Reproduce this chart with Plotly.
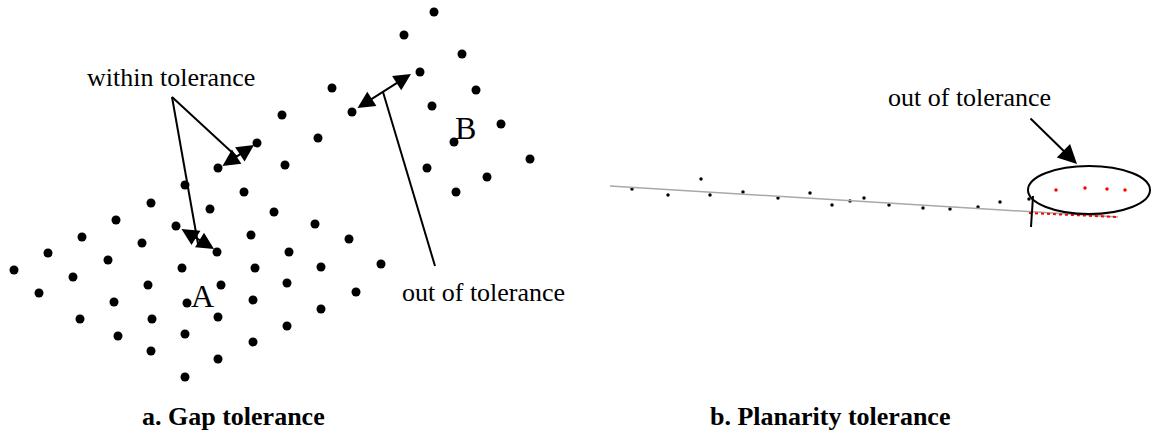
import plotly.graph_objects as go

# Panel a: point cloud (pixel-space coordinates of the diagram)
a_x = [282, 257, 285, 218, 244, 185, 151, 210, 274, 116, 176, 251, 82, 142, 217, 289, 48, 108, 14,
       182, 255, 73, 148, 221, 287, 39, 114, 187, 253, 80, 152, 218, 287, 118, 185, 253, 151, 218, 185,
       315, 349, 321, 381, 356, 321,
       434, 404, 462, 332, 420, 476, 352, 432, 501, 318, 454, 530, 427, 487, 456]
a_y = [115, 143, 165, 168, 192, 185, 203, 209, 212, 220, 226, 235, 237, 243, 252, 252, 253, 260, 270,
       268, 268, 277, 285, 285, 283, 293, 302, 303, 300, 319, 319, 317, 326, 336, 334, 342, 351, 359, 377,
       224, 239, 267, 264, 292, 309,
       12, 35, 54, 88, 72, 90, 112, 106, 124, 138, 142, 159, 168, 177, 192]

# Panel b: planarity points
b_x = [632, 668, 701, 710, 743, 778, 810, 832, 850, 864, 889, 923, 950, 978, 1000, 1029]
b_y = [189, 195, 179, 195, 192, 198, 193, 205, 201, 198, 205, 208, 209, 207, 202, 199]
r_x = [1056, 1085, 1107, 1125]
r_y = [190, 188, 189, 190]

labels = ["within tolerance", "out of tolerance", "out of tolerance", "A", "B",
          "a. Gap tolerance", "b. Planarity tolerance"]

W, H = 1157, 435
fig = go.Figure()
fig.add_trace(go.Scatter(x=a_x, y=a_y, mode="markers",
                         marker=dict(size=9, color="black"), hoverinfo="skip"))
fig.add_trace(go.Scatter(x=b_x, y=b_y, mode="markers",
                         marker=dict(size=3.5, color="black"), hoverinfo="skip"))
fig.add_trace(go.Scatter(x=r_x, y=r_y, mode="markers",
                         marker=dict(size=3.5, color="red"), hoverinfo="skip"))

shapes = [
    dict(type="line", x0=172, y0=97, x1=237, y1=157, line=dict(color="black", width=2)),
    dict(type="line", x0=172, y0=97, x1=198, y1=244, line=dict(color="black", width=2)),
    dict(type="line", x0=383, y0=92, x1=435, y1=266, line=dict(color="black", width=2)),
    dict(type="line", x0=610, y0=186, x1=1118, y1=217, line=dict(color="#a8a8a8", width=1.5)),
    dict(type="line", x0=1029, y0=213, x1=1116, y1=217, line=dict(color="red", width=2, dash="dot")),
    dict(type="circle", x0=1028, x1=1150, y0=166, y1=214, line=dict(color="black", width=2)),
    dict(type="line", x0=1033, y0=196, x1=1031, y1=227, line=dict(color="black", width=2)),
]

serif = "Liberation Serif, Times New Roman, serif"
ann = []
def txt(x, y, t, size, bold=False):
    ann.append(dict(x=x, y=y, text=("<b>%s</b>" % t) if bold else t, showarrow=False,
                    xref="x", yref="y", font=dict(family=serif, size=size, color="black"),
                    xanchor="center", yanchor="middle"))

txt(171, 77, labels[0], 26)
txt(483, 292, labels[1], 26)
txt(969, 97, labels[2], 26)
txt(202, 296, labels[3], 32)
txt(465, 128, labels[4], 32)
txt(233, 416, labels[5], 26, True)
txt(830, 416, labels[6], 26, True)

def dbl(x0, y0, x1, y1):
    ann.append(dict(x=x1, y=y1, ax=x0, ay=y0, xref="x", yref="y", axref="x", ayref="y",
                    text="", showarrow=True, arrowhead=2, arrowsize=1.7, arrowwidth=2,
                    arrowside="end+start", arrowcolor="black", standoff=0, startstandoff=0))

dbl(221, 167, 254, 145)
dbl(180, 228, 214, 249)
dbl(356, 109, 411, 74)

ann.append(dict(x=1077, y=164, ax=1029, ay=117, xref="x", yref="y", axref="x", ayref="y",
                text="", showarrow=True, arrowhead=2, arrowsize=1.9, arrowwidth=2,
                arrowcolor="black", standoff=0))

fig.update_layout(
    width=W, height=H, margin=dict(l=0, r=0, t=0, b=0),
    paper_bgcolor="white", plot_bgcolor="white", showlegend=False,
    xaxis=dict(range=[0, W], visible=False, fixedrange=True),
    yaxis=dict(range=[H, 0], visible=False, fixedrange=True),
    shapes=shapes, annotations=ann,
)
fig.write_html("out.html", config={"displayModeBar": False},
               post_script="document.body.style.margin='0';document.body.style.overflow='hidden';")
